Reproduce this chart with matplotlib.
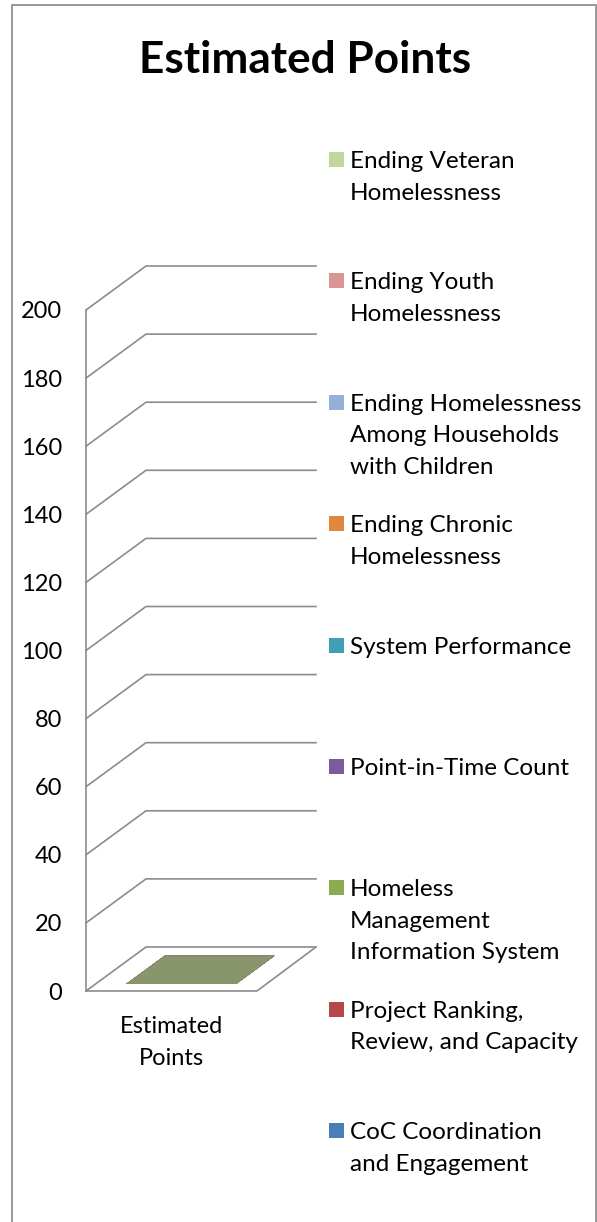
import matplotlib.pyplot as plt
import numpy as np
from matplotlib.patches import Polygon, Rectangle

plt.rcParams['font.family'] = ['Lato', 'DejaVu Sans']

# chart data
title = 'Estimated Points'
categories = ['Estimated\nPoints']
series_names = ['CoC Coordination\nand Engagement',
                'Project Ranking,\nReview, and Capacity',
                'Homeless\nManagement\nInformation System',
                'Point-in-Time Count',
                'System Performance',
                'Ending Chronic\nHomelessness',
                'Ending Homelessness\nAmong Households\nwith Children',
                'Ending Youth\nHomelessness',
                'Ending Veteran\nHomelessness']
series_values = [0, 0, 0, 0, 0, 0, 0, 0, 0]
series_colors = ['#4A7EBB', '#B5494A', '#8CAA4F', '#7A5C9E', '#3FA0B5',
                 '#E0873E', '#95B0D6', '#D99694', '#C3D69B']
y_ticks = [0, 20, 40, 60, 80, 100, 120, 140, 160, 180, 200]

W, H = 597, 1222
fig = plt.figure(figsize=(W / 100, H / 100), dpi=100)

# outer chart border
fig.patches.append(Rectangle((12 / W, -0.01), (596 - 12) / W, 1 - 5 / H + 0.01,
                             transform=fig.transFigure, fill=False,
                             edgecolor='#868686', linewidth=1.2))

fig.text(305 / W, 1 - 73 / H, title, ha='center', va='baseline',
         fontsize=31.8, fontweight='bold')

# plot area (pseudo 3-D): front wall x from 0 to fw, depth offset dx / dv
px_per_unit = (991 - 310) / 200
dv = 44 / px_per_unit
dx = 60 / 230
fw = 171 / 230
ax = fig.add_axes([86 / W, (H - 991) / H, 230 / W, (991 - 266) / H])
ax.set_xlim(0, 1)
ax.set_ylim(0, 200 + dv)
for s in ax.spines.values():
    s.set_visible(False)

grid_c = '#8C8C8C'
for v in y_ticks:
    ax.plot([0, dx, 1], [v + 0, v + dv, v + dv], color=grid_c, lw=1.2,
            solid_joinstyle='miter', clip_on=False)
ax.plot([0, 0], [0, y_ticks[-1]], color=grid_c, lw=1.2, clip_on=False)
ax.plot([0, fw, 1], [0, 0, dv], color=grid_c, lw=1.2, clip_on=False)


def shade(c, k):
    r, g, b = [int(c[i:i + 2], 16) for i in (1, 3, 5)]
    return (r * k / 255, g * k / 255, b * k / 255)


# stacked 3-D column
bx0, bx1 = 0.133, 0.611
f0, f1 = 0.16, 0.80
bottom = 0
for val, col in zip(series_values, series_colors):
    top = bottom + val
    ox0, oy0 = f0 * dx, f0 * dv
    ox1, oy1 = f1 * dx, f1 * dv
    front = [(bx0 + ox0, bottom + oy0), (bx1 + ox0, bottom + oy0),
             (bx1 + ox0, top + oy0), (bx0 + ox0, top + oy0)]
    side = [(bx1 + ox0, bottom + oy0), (bx1 + ox1, bottom + oy1),
            (bx1 + ox1, top + oy1), (bx1 + ox0, top + oy0)]
    lid = [(bx0 + ox0, top + oy0), (bx1 + ox0, top + oy0),
           (bx1 + ox1, top + oy1), (bx0 + ox1, top + oy1)]
    if val > 0:
        ax.add_patch(Polygon(front, closed=True, facecolor=col, edgecolor='none'))
        ax.add_patch(Polygon(side, closed=True, facecolor=shade(col, 0.8), edgecolor='none'))
    ax.add_patch(Polygon(lid, closed=True, facecolor=shade(col, 0.7), edgecolor='none'))
    bottom = top

ax.set_yticks(y_ticks)
ax.set_yticklabels([str(t) for t in y_ticks], fontsize=17)
ax.set_xticks([fw / 2])
ax.set_xticklabels(categories, fontsize=17, linespacing=1.65)
ax.tick_params(axis='y', length=0, pad=17)
ax.tick_params(axis='x', length=0, pad=18)

# legend (reversed order, like the stacked chart)
for i, (name, col) in enumerate(zip(series_names[::-1], series_colors[::-1])):
    base = 168 + i * 121.4
    fig.patches.append(Rectangle((329 / W, 1 - (base - 1) / H), 15 / W, 15 / H,
                                 transform=fig.transFigure, facecolor=col,
                                 edgecolor='none'))
    for k, line in enumerate(name.split('\n')):
        fig.text(350 / W, 1 - (base + k * 31.5) / H, line, ha='left',
                 va='baseline', fontsize=17.5)

fig.savefig('out.png', dpi=100)
